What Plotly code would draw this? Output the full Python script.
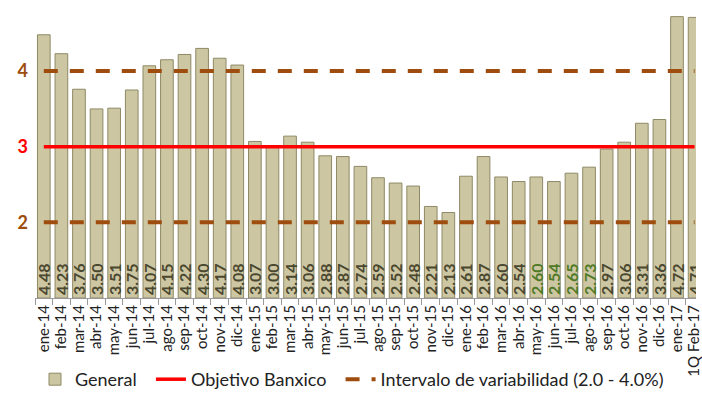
import plotly.graph_objects as go

categories = ["ene-14", "feb-14", "mar-14", "abr-14", "may-14", "jun-14", "jul-14", "ago-14",
              "sep-14", "oct-14", "nov-14", "dic-14",
              "ene-15", "feb-15", "mar-15", "abr-15", "may-15", "jun-15", "jul-15", "ago-15",
              "sep-15", "oct-15", "nov-15", "dic-15",
              "ene-16", "feb-16", "mar-16", "abr-16", "may-16", "jun-16", "jul-16", "ago-16",
              "sep-16", "oct-16", "nov-16", "dic-16",
              "ene-17", "1Q Feb-17"]
general = [4.48, 4.23, 3.76, 3.50, 3.51, 3.75, 4.07, 4.15, 4.22, 4.30, 4.17, 4.08,
           3.07, 3.00, 3.14, 3.06, 2.88, 2.87, 2.74, 2.59, 2.52, 2.48, 2.21, 2.13,
           2.61, 2.87, 2.60, 2.54, 2.60, 2.54, 2.65, 2.73, 2.97, 3.06, 3.31, 3.36,
           4.72, 4.71]
objetivo = [3.0] * len(categories)
limite_inf = [2.0] * len(categories)
limite_sup = [4.0] * len(categories)
green_labels = ["may-16", "jun-16", "jul-16", "ago-16"]
axis_min = 1.0

FONT = "Lato, sans-serif"
BROWN = "#9e4d0e"
NB = "\u00a0"
label_colors = ["#4f7a28" if c in green_labels else "#4a4830" for c in categories]

fig = go.Figure()
# bars start at the axis minimum (as in the original Excel chart)
fig.add_trace(go.Bar(
    x=categories, y=[v - axis_min for v in general], base=axis_min, name="General" + NB * 2,
    marker=dict(color="#cdc6a2", line=dict(color="#8e8966", width=1)),
    text=[f"{v:.2f}" for v in general],
    textposition="inside", insidetextanchor="start", textangle=-90,
    textfont=dict(family=FONT, size=16, color=label_colors, weight="bold"),
))
fig.add_trace(go.Scatter(
    x=categories, y=objetivo, mode="lines", name="Objetivo Banxico" + NB * 2,
    line=dict(color="#ff0000", width=3.5),
))
fig.add_trace(go.Scatter(
    x=categories, y=limite_inf, mode="lines", name="Intervalo de variabilidad (2.0 - 4.0%)",
    line=dict(color=BROWN, width=4, dash="14px,12px"), legendgroup="int",
))
fig.add_trace(go.Scatter(
    x=categories, y=limite_sup, mode="lines", name="Intervalo de variabilidad (2.0 - 4.0%)",
    line=dict(color=BROWN, width=4, dash="14px,12px"), legendgroup="int", showlegend=False,
))

fig.update_layout(
    width=702, height=398,
    margin=dict(l=35, r=0, t=0, b=100),
    plot_bgcolor="white", paper_bgcolor="white",
    bargap=0.28,
    uniformtext=dict(minsize=16, mode="show"),
    font=dict(family=FONT, size=15, color="#222222"),
    showlegend=True,
    legend=dict(orientation="h", x=0.0, xanchor="left", y=-0.275, yanchor="middle",
                font=dict(family=FONT, size=18, color="#222222"),
                itemwidth=30, tracegroupgap=0, bgcolor="rgba(0,0,0,0)"),
    xaxis=dict(
        type="category", range=[-0.5, 37.08],
        tickmode="array", tickvals=categories, ticktext=categories,
        tickangle=-90, tickson="boundaries", ticks="outside", ticklen=6,
        tickcolor="#9a9a9a", showline=True, linecolor="#9a9a9a", linewidth=1,
        showgrid=False, tickfont=dict(family=FONT, size=15, color="#222222"),
    ),
    yaxis=dict(
        range=[axis_min, 4.94], showgrid=False, zeroline=False, showline=False,
        tickvals=[2, 3, 4],
        ticktext=[f"<b><span style='color:{BROWN}'>2</span></b>",
                  "<b><span style='color:#ff0000'>3</span></b>",
                  f"<b><span style='color:{BROWN}'>4</span></b>"],
        tickfont=dict(family=FONT, size=18),
        ticklabelstandoff=6,
    ),
)

fig.write_html("out.html")
